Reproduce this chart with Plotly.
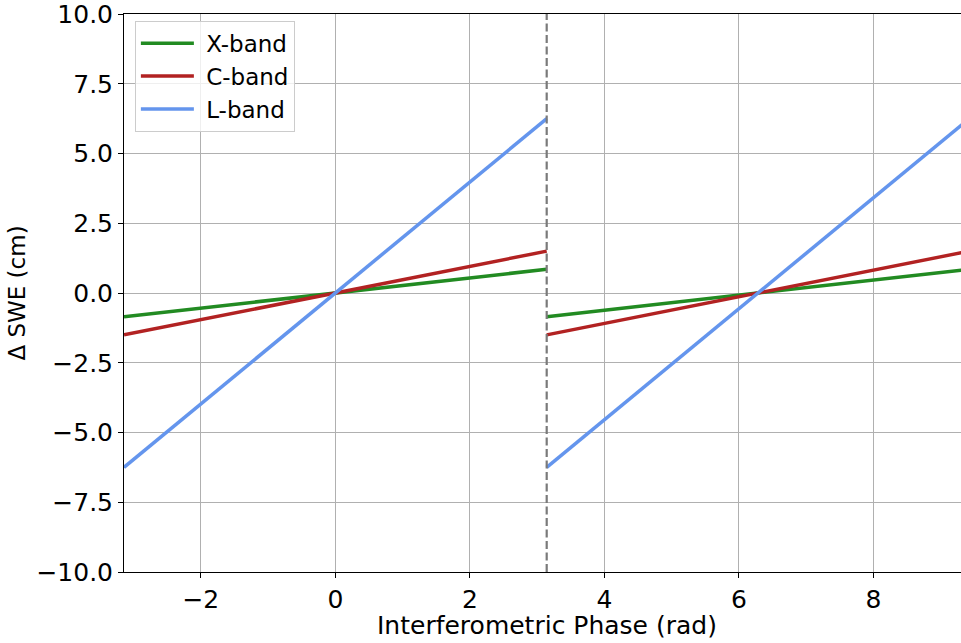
import math
import plotly.graph_objects as go

# Phase at the ends of each 2π cycle (rad): wrapped cycle, then the next one
phase_cycle1 = [-math.pi, math.pi]
phase_cycle2 = [math.pi, 3 * math.pi]

# ΔSWE (cm) at the two ends of each cycle, per radar band
bands = ["X-band", "C-band", "L-band"]
dswe_x = [-0.85, 0.85]
dswe_c = [-1.5, 1.5]
dswe_l = [-6.25, 6.25]
band_values = [dswe_x, dswe_c, dswe_l]
band_colors = ["#228B22", "#B22222", "#6495ED"]

y_ticks = [-10.0, -7.5, -5.0, -2.5, 0.0, 2.5, 5.0, 7.5, 10.0]
x_ticks = [-2, 0, 2, 4, 6, 8]
x_range = [-math.pi, 9.30]
y_range = [-10, 10]

FONT = "DejaVu Sans"

fig = go.Figure()
for name, vals, col in zip(bands, band_values, band_colors):
    xs = phase_cycle1 + [None] + phase_cycle2
    ys = vals + [None] + vals
    fig.add_trace(go.Scatter(
        x=xs, y=ys, mode="lines", name=" " + name,
        line=dict(color=col, width=3.5),
        legendgroup=name,
        connectgaps=False,
    ))

# Wrapping boundary at phase = π
fig.add_shape(type="line", xref="x", yref="paper",
              x0=math.pi, x1=math.pi, y0=0, y1=1,
              line=dict(color="#7a7a7a", width=2.2, dash="8px,3.5px"))

# x-axis title, centred on the full two-cycle span (-π .. 3π)
fig.add_annotation(
    text="Interferometric Phase (rad)", xref="x", yref="paper",
    x=(phase_cycle1[0] + phase_cycle2[1]) / 2, y=-0.066,
    xanchor="center", yanchor="top", showarrow=False,
    font=dict(family=FONT, size=25, color="black"),
)

fig.update_layout(
    width=961, height=643,
    margin=dict(l=124, r=0, t=12, b=71),
    plot_bgcolor="white", paper_bgcolor="white",
    font=dict(family=FONT, color="black"),
    showlegend=True,
    legend=dict(
        x=0.013, y=0.988, xanchor="left", yanchor="top",
        bgcolor="rgba(255,255,255,0.8)", bordercolor="#cccccc", borderwidth=1,
        font=dict(family=FONT, size=23, color="black"),
        traceorder="grouped", tracegroupgap=0, itemwidth=53,
    ),
)

fig.update_xaxes(
    range=x_range, tickvals=x_ticks,
    ticktext=[("\u2212" + str(-v)) if v < 0 else str(v) for v in x_ticks],
    showgrid=True, gridcolor="#b0b0b0", gridwidth=1,
    showline=True, linecolor="black", linewidth=1, mirror=True,
    ticks="outside", ticklen=5, tickcolor="black",
    tickfont=dict(family=FONT, size=25),
    zeroline=False,
)
fig.update_yaxes(
    range=y_range, tickvals=y_ticks, tickformat=".1f",
    showgrid=True, gridcolor="#b0b0b0", gridwidth=1,
    showline=True, linecolor="black", linewidth=1,
    ticks="outside", ticklen=5, tickcolor="black",
    tickfont=dict(family=FONT, size=25),
    ticklabeloverflow="allow",
    zeroline=False,
    title=dict(text="\u0394 SWE (cm)", font=dict(family=FONT, size=23), standoff=4),
)

fig.write_html("out.html")
